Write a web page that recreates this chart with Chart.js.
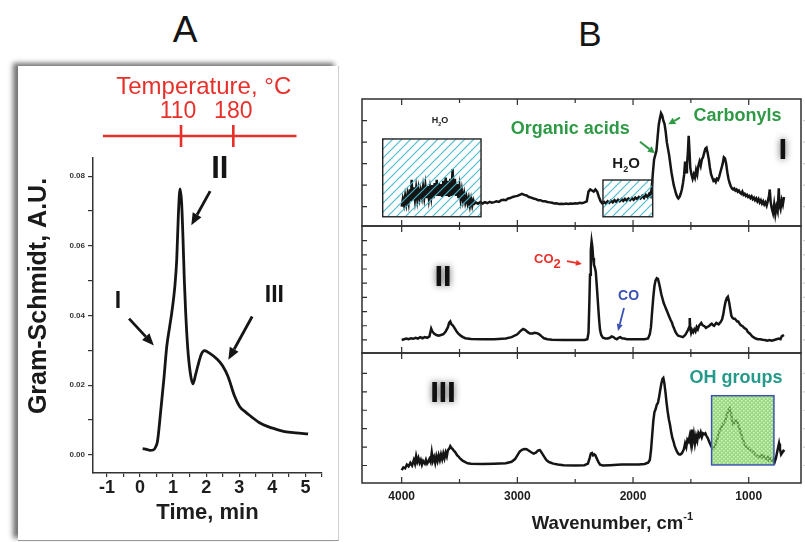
<!DOCTYPE html>
<html>
<head>
<meta charset="utf-8">
<script src="https://cdn.jsdelivr.net/npm/chart.js@4.4.1/dist/chart.umd.min.js"></script>
<style>
  html, body { margin: 0; padding: 0; background: #fff; }
  body { width: 805px; height: 542px; position: relative; overflow: hidden;
         font-family: "Liberation Sans", Arial, sans-serif; }
  canvas { position: absolute; }
  .panel-letter { position: absolute; color: #151515; line-height: 1; transform: translate(-50%, -50%); }
  #boxA { position: absolute; left: 18px; top: 66px; width: 320px; height: 474px; background: #fff;
          box-shadow: -5px -3px 5px rgba(0,0,0,0.55); border-right: 1px solid #d0d0d0; border-bottom: 1px solid #9a9a9a; }
</style>
</head>
<body>
<div class="panel-letter" style="left:185px;top:29px;font-size:37px;">A</div>
<div class="panel-letter" style="left:590px;top:33px;font-size:35px;">B</div>
<div id="boxA"></div>
<canvas id="cA" width="320" height="474" style="left:18px;top:66px;width:320px;height:474px"></canvas>
<canvas id="cB1" width="450" height="133" style="left:355px;top:96px;width:450px;height:133px"></canvas>
<canvas id="cB2" width="450" height="133" style="left:355px;top:223px;width:450px;height:133px"></canvas>
<canvas id="cB3" width="450" height="192" style="left:355px;top:350px;width:450px;height:192px"></canvas>
<script>
// ---------- Panel A: Gram-Schmidt evolved-gas trace ----------
const gsTime = [0.08, 0.2, 0.3, 0.4, 0.47, 0.53, 0.62, 0.72, 0.81, 0.9, 0.96, 1.05, 1.11, 1.16, 1.21,
  1.26, 1.3, 1.34, 1.38, 1.44, 1.52, 1.6, 1.68, 1.75, 1.85, 1.95, 2.1, 2.35, 2.5, 2.66,
  2.86, 3.01, 3.2, 3.36, 3.6, 3.87, 4.1, 4.37, 4.7, 5.08];
const gsSignal = [0.0018, 0.0016, 0.0013, 0.0014, 0.0022, 0.004, 0.012, 0.0216, 0.0312, 0.037, 0.0408, 0.048, 0.056, 0.069, 0.0763,
  0.072, 0.062, 0.05, 0.041, 0.031, 0.0235, 0.0204, 0.023, 0.0256, 0.0288, 0.0299, 0.0292, 0.0273, 0.0255, 0.0225,
  0.0168, 0.0139, 0.0122, 0.011, 0.0093, 0.0081, 0.0074, 0.0067, 0.0063, 0.006];
const timeRange = [-1.42, 5.5];
const signalRange = [-0.0052, 0.0852];
// temperature reached at given times (top red axis)
const tempLabels = [110, 180];
const tempTickTimes = [1.24, 2.82];
const tempAxisSpan = [-1.12, 4.73];
// stage markers: label, label position, arrow start, arrow end (time, signal)
const stageNames = ['I', 'II', 'III'];
const stageLabelPos = [[-0.667, 0.0439], [2.41, 0.0819], [4.06, 0.0456]];
const stageArrowFrom = [[-0.33, 0.0391], [2.12, 0.0757], [3.39, 0.0397]];
const stageArrowTo = [[0.42, 0.0314], [1.55, 0.0659], [2.67, 0.0273]];

// ---------- Panel B: FTIR spectra at stages I, II, III ----------
const wnRange = [548, 4343];
const wnTicks = [4000, 3500, 3000, 2500, 2000, 1500, 1000];
const wnTickLabels = [4000, 3000, 2000, 1000];
// [wavenumber cm-1, absorbance a.u.]
const specI = [
  [4000,0.0],[3990,0.35],[3980,0.1],[3970,0.5],[3960,0.15],[3950,0.55],[3940,0.2],[3930,0.8],[3920,0.25],[3914,1.25],
  [3905,0.3],[3895,0.9],[3885,0.35],[3875,0.85],[3865,0.35],[3855,0.8],[3845,0.4],[3835,0.75],[3825,0.45],[3815,0.9],
  [3805,0.45],[3795,0.95],[3785,0.4],[3775,0.95],[3765,0.4],[3755,0.85],[3745,0.45],[3735,1.0],[3725,0.4],[3715,1.1],
  [3705,0.5],[3697,1.25],[3690,0.5],[3680,1.1],[3670,0.5],[3660,1.05],[3650,0.45],[3640,1.2],[3630,0.5],[3620,1.35],
  [3610,0.5],[3600,1.2],[3590,0.45],[3580,1.3],[3570,0.5],[3560,1.75],[3550,0.55],[3540,1.3],[3530,0.5],[3520,1.05],
  [3510,0.4],[3500,0.9],[3490,0.35],[3480,0.75],[3470,0.3],[3460,0.6],[3450,0.2],[3440,0.45],[3430,0.15],[3420,0.4],
  [3410,0.05],[3400,0.35],[3390,0.05],[3380,0.3],[3370,0.15],
  [3360,0.2],[3340,0.14],[3320,0.22],[3300,0.15],[3280,0.21],[3260,0.16],[3240,0.22],[3220,0.18],[3200,0.21],[3180,0.25],
  [3160,0.22],[3140,0.3],[3120,0.32],[3100,0.3],[3080,0.38],[3060,0.4],[3040,0.45],[3020,0.48],[3000,0.5],[2980,0.55],
  [2960,0.6],[2940,0.55],[2920,0.52],[2900,0.45],[2880,0.42],[2860,0.38],[2840,0.35],[2820,0.3],[2800,0.3],[2780,0.25],
  [2760,0.25],[2740,0.22],[2720,0.2],[2700,0.18],[2680,0.15],[2660,0.16],[2640,0.12],[2620,0.14],[2600,0.12],[2580,0.15],
  [2560,0.13],[2540,0.15],[2520,0.14],[2500,0.16],[2480,0.15],[2460,0.18],[2440,0.16],[2420,0.2],[2400,0.25],[2385,0.7],
  [2370,0.8],[2355,0.75],[2340,0.7],[2325,0.8],[2310,0.7],[2295,0.45],[2280,0.25],[2265,0.15],[2250,0.22],[2235,0.15],
  [2220,0.25],[2205,0.18],[2190,0.28],[2175,0.2],[2160,0.3],[2145,0.22],[2130,0.32],[2115,0.25],[2100,0.35],[2085,0.27],
  [2070,0.36],[2055,0.28],[2040,0.38],[2025,0.3],[2010,0.4],[1995,0.32],[1980,0.42],[1965,0.35],[1950,0.45],[1935,0.38],
  [1920,0.5],[1905,0.4],[1890,0.55],[1875,0.45],[1860,0.6],[1848,0.5],[1838,0.9],[1828,1.6],[1818,2.2],[1808,2.4],
  [1798,2.6],[1788,3.2],[1778,3.8],[1768,4.1],[1758,4.35],[1748,4.25],[1738,4.0],[1728,3.85],[1718,3.5],[1708,3.0],
  [1698,2.7],[1688,2.4],[1678,2.0],[1668,1.6],[1658,1.3],[1648,1.0],[1638,0.8],[1628,0.6],[1618,0.45],[1608,0.38],
  [1598,0.45],[1588,0.6],[1578,0.8],[1568,1.1],[1558,1.5],[1550,2.1],[1542,1.6],[1534,1.9],[1526,2.5],[1519,3.3],
  [1512,2.6],[1505,1.8],[1495,1.5],[1485,1.3],[1475,1.5],[1465,1.35],[1455,1.7],[1445,1.5],[1435,1.9],[1425,2.1],
  [1415,1.9],[1405,2.2],[1395,2.3],[1385,2.5],[1375,2.7],[1365,2.75],[1355,2.5],[1345,2.2],[1335,1.8],[1325,1.5],
  [1315,1.35],[1305,1.2],[1295,1.25],[1285,1.15],[1275,1.3],[1265,1.25],[1255,1.4],[1245,1.6],[1235,1.8],[1225,2.0],
  [1215,2.3],[1205,2.25],[1195,2.0],[1185,1.6],[1175,1.3],[1165,1.1],[1155,0.95],[1145,0.85],[1135,0.8],[1125,0.85],
  [1115,0.75],[1105,0.8],[1095,0.7],[1085,0.75],[1075,0.65],[1065,0.6],[1055,0.7],[1045,0.55],[1035,0.6],[1025,0.5],
  [1015,0.55],[1005,0.45],[995,0.5],[985,0.4],[975,0.48],[965,0.35],[955,0.42],[945,0.3],[935,0.38],[925,0.25],
  [915,0.35],[905,0.2],[895,0.3],[885,0.15],[875,0.25],[865,0.1],[855,0.2],[845,0.05],[835,0.25],[825,0.5],
  [818,0.8],[810,0.2],[800,-0.1],[790,-0.3],[780,0.1],[770,-0.35],[760,0.0],[750,-0.2],[740,0.85],[735,0.1],
  [725,-0.1],[715,0.3],[705,0.1],[695,0.45]
];
const specII = [
  [4000,0.0],[3980,0.05],[3960,0.1],[3940,0.05],[3920,0.12],[3900,0.08],[3880,0.15],[3860,0.1],[3840,0.2],[3820,0.12],
  [3800,0.2],[3780,0.15],[3760,0.25],[3745,0.8],[3735,0.6],[3720,0.45],[3700,0.35],[3680,0.3],[3660,0.35],[3640,0.4],
  [3620,0.6],[3600,0.9],[3590,1.2],[3580,1.3],[3570,1.1],[3555,1.0],[3540,0.8],[3525,0.6],[3510,0.45],[3490,0.3],
  [3470,0.2],[3450,0.12],[3400,0.07],[3300,0.05],[3200,0.05],[3100,0.1],[3050,0.2],[3000,0.4],[2970,0.65],[2950,0.77],
  [2930,0.7],[2910,0.55],[2890,0.45],[2870,0.45],[2850,0.5],[2830,0.48],[2810,0.4],[2790,0.25],[2770,0.12],[2740,0.05],
  [2700,0.02],[2600,0.0],[2500,0.0],[2420,0.0],[2395,0.05],[2385,0.5],[2378,2.5],[2372,4.6],[2365,6.3],[2358,6.95],
  [2352,6.6],[2345,5.8],[2338,5.3],[2330,5.1],[2322,4.8],[2315,4.0],[2308,3.2],[2300,2.2],[2292,1.3],[2285,0.7],
  [2275,0.35],[2260,0.15],[2240,0.1],[2220,0.1],[2200,0.15],[2185,0.25],[2170,0.2],[2155,0.1],[2140,0.05],[2125,0.15],
  [2110,0.2],[2095,0.12],[2080,0.1],[2050,0.05],[2000,0.05],[1950,0.05],[1900,0.05],[1870,0.1],[1855,0.4],[1845,0.9],
  [1835,2.0],[1825,3.0],[1815,3.8],[1805,4.2],[1795,4.35],[1785,4.3],[1775,4.0],[1765,3.6],[1755,3.2],[1745,2.9],
  [1735,2.6],[1725,2.4],[1715,2.2],[1705,2.0],[1695,1.8],[1685,1.6],[1675,1.4],[1665,1.25],[1655,1.0],[1645,0.8],
  [1635,0.6],[1625,0.45],[1610,0.3],[1590,0.25],[1570,0.2],[1555,0.3],[1545,0.4],[1535,0.55],[1525,0.7],[1515,0.9],
  [1510,1.55],[1505,0.8],[1498,0.5],[1490,0.7],[1480,0.55],[1470,0.75],[1460,0.6],[1450,0.9],[1440,0.75],[1430,1.0],
  [1420,1.1],[1410,1.2],[1400,1.05],[1390,1.0],[1380,0.95],[1370,0.85],[1360,0.9],[1350,0.95],[1340,1.0],[1330,1.1],
  [1320,1.15],[1310,1.05],[1300,1.0],[1290,1.1],[1280,1.2],[1270,1.15],[1260,1.1],[1250,1.2],[1240,1.3],[1230,1.45],
  [1220,1.8],[1210,2.3],[1200,2.7],[1190,2.95],[1180,3.05],[1170,2.7],[1160,2.2],[1150,1.7],[1140,1.55],[1130,1.5],
  [1120,1.5],[1110,1.4],[1100,1.3],[1090,1.3],[1080,1.15],[1070,1.05],[1060,1.0],[1050,0.95],[1040,0.85],[1030,0.8],
  [1020,0.75],[1010,0.6],[1000,0.5],[990,0.45],[980,0.35],[970,0.25],[960,0.2],[940,0.1],[920,0.05],[900,0.05],
  [880,0.02],[860,0.0],[840,-0.05],[820,0.0],[800,-0.05],[780,0.0],[760,0.05],[740,0.1],[725,0.05],[715,0.25],
  [705,0.3],[695,0.35]
];
const specIII = [
  [4000,-0.25],[3985,-0.1],[3970,-0.15],[3955,0.05],[3940,-0.05],[3925,0.15],[3910,0.0],[3895,0.3],[3885,0.1],[3875,0.5],
  [3865,0.2],[3855,0.4],[3845,0.15],[3835,0.3],[3825,0.05],[3815,0.25],[3800,0.1],[3790,0.3],[3780,0.1],[3770,0.2],
  [3760,0.35],[3750,0.2],[3740,0.7],[3730,0.25],[3720,0.45],[3710,0.15],[3700,0.5],[3690,0.25],[3680,0.55],[3670,0.3],
  [3660,0.6],[3650,0.35],[3640,0.65],[3630,0.4],[3620,0.7],[3610,0.5],[3600,0.85],[3590,0.9],[3580,1.05],[3570,0.95],
  [3560,0.9],[3550,0.8],[3540,0.75],[3530,0.65],[3520,0.55],[3510,0.5],[3500,0.42],[3490,0.35],[3480,0.3],[3470,0.25],
  [3450,0.18],[3430,0.12],[3400,0.1],[3300,0.08],[3200,0.1],[3100,0.12],[3050,0.2],[3020,0.35],[3000,0.55],[2980,0.75],
  [2960,0.85],[2940,0.9],[2920,0.88],[2900,0.8],[2880,0.72],[2860,0.65],[2840,0.7],[2820,0.82],[2805,0.84],[2790,0.7],
  [2770,0.5],[2750,0.3],[2730,0.2],[2710,0.15],[2690,0.1],[2650,0.05],[2600,0.02],[2500,0.0],[2420,0.02],[2390,0.1],
  [2375,0.4],[2365,0.65],[2355,0.68],[2345,0.55],[2335,0.6],[2325,0.55],[2315,0.4],[2300,0.2],[2285,0.05],[2260,0.0],
  [2200,0.02],[2100,0.05],[2000,0.05],[1950,0.05],[1900,0.08],[1870,0.15],[1855,0.3],[1845,0.8],[1835,1.6],[1825,2.4],
  [1815,2.9],[1805,3.05],[1795,3.3],[1785,3.4],[1775,3.7],[1765,4.1],[1755,4.45],[1745,4.7],[1738,4.75],[1730,4.5],
  [1720,4.0],[1710,3.4],[1700,2.9],[1690,2.5],[1680,2.2],[1670,1.8],[1660,1.5],[1650,1.3],[1640,1.05],[1630,0.9],
  [1620,0.75],[1610,0.65],[1600,0.6],[1590,0.6],[1580,0.65],[1570,0.75],[1560,0.9],[1550,1.2],[1540,1.0],[1530,1.4],
  [1520,1.3],[1510,1.6],[1500,1.2],[1493,1.95],[1485,1.3],[1475,1.7],[1465,1.2],[1455,1.6],[1445,1.35],[1435,1.75],
  [1425,1.6],[1415,1.8],[1405,1.55],[1395,1.75],[1385,1.7],[1375,1.75],[1365,1.6],[1355,1.5],[1345,1.35],[1335,1.2],
  [1325,1.05],[1315,0.95],[1305,0.92],[1295,1.0],[1285,1.2],[1275,1.4],[1265,1.6],[1255,1.85],[1245,1.95],[1235,2.1],
  [1225,2.2],[1215,2.3],[1205,2.4],[1195,2.6],[1185,2.85],[1175,3.0],[1165,3.1],[1155,2.9],[1145,2.5],[1135,2.25],
  [1125,2.3],[1115,2.45],[1105,2.45],[1095,2.3],[1085,2.1],[1075,1.9],[1065,1.7],[1055,1.5],[1045,1.3],[1035,1.15],
  [1025,1.05],[1015,1.0],[1005,0.95],[995,0.9],[985,0.85],[975,0.8],[965,0.75],[955,0.7],[945,0.6],[935,0.55],
  [925,0.5],[915,0.45],[905,0.5],[895,0.55],[885,0.45],[875,0.55],[865,0.5],[855,0.4],[845,0.35],[835,0.45],
  [825,0.3],[815,0.4],[805,0.35],[795,0.25],[785,0.35],[775,0.2],[765,0.4],[755,0.7],[745,1.0],[738,1.2],
  [730,0.9],[720,0.6],[710,0.7],[700,0.8],[690,0.75]
];
// vertical ranges and inner tick values of the three stacked panels
const rangeI = [-0.9, 5.01],  ticksI = [0, 1, 2, 3, 4];
const rangeII = [-0.92, 8.03], ticksII = [0, 1, 2, 3, 4, 5, 6, 7];
const rangeIII = [-0.95, 6.11], ticksIII = [0, 1, 2, 3, 4, 5];
// highlighted bands [wn from, wn to, abs from, abs to]
const waterBandWide = [4164, 3314, -0.47, 3.15];
const waterBandNarrow = [2260, 1830, -0.47, 1.24];
const hydroxylBand = [1321, 782, 0.03, 3.79];

const FONT = '"Liberation Sans", Arial, sans-serif';
const RED = '#e8302a', GREEN = '#2f9a45', TEAL = '#25998a', BLUE = '#3b52b4', INK = '#151515';

function arrow(ctx, x1, y1, x2, y2, color, lw, head, hw) {
  const a = Math.atan2(y2 - y1, x2 - x1);
  const bx = x2 - head * Math.cos(a), by = y2 - head * Math.sin(a);
  ctx.strokeStyle = color; ctx.lineWidth = lw; ctx.lineCap = 'butt';
  ctx.beginPath(); ctx.moveTo(x1, y1); ctx.lineTo(bx, by); ctx.stroke();
  ctx.fillStyle = color; ctx.beginPath(); ctx.moveTo(x2, y2);
  ctx.lineTo(bx + hw * Math.sin(a), by - hw * Math.cos(a));
  ctx.lineTo(bx - hw * Math.sin(a), by + hw * Math.cos(a));
  ctx.closePath(); ctx.fill();
}

// text made of pieces; piece = [text, shift] with shift 0 normal, 1 subscript, -1 superscript
function richText(ctx, parts, cx, cy, size, color, subScale, subDrop) {
  const fontFor = s => `bold ${s ? size * subScale : size}px ${FONT}`;
  let w = 0;
  parts.forEach(([t, s]) => { ctx.font = fontFor(s); w += ctx.measureText(t).width; });
  let x = cx - w / 2;
  const base = cy + size * 0.36;
  ctx.fillStyle = color; ctx.textAlign = 'left'; ctx.textBaseline = 'alphabetic';
  parts.forEach(([t, s]) => {
    ctx.font = fontFor(s);
    ctx.fillText(t, x, base + s * size * subDrop);
    x += ctx.measureText(t).width;
  });
}

function blurredNumeral(ctx, text, x, y, size) {
  ctx.save();
  ctx.font = `bold ${size}px ${FONT}`;
  ctx.textAlign = 'center'; ctx.textBaseline = 'middle';
  ctx.shadowColor = 'rgba(0,0,0,0.75)'; ctx.shadowBlur = 7;
  ctx.fillStyle = 'rgba(20,20,20,0.9)';
  ctx.fillText(text, x, y);
  ctx.shadowBlur = 0;
  ctx.fillStyle = '#111';
  ctx.fillText(text, x, y);
  ctx.restore();
}

function hatchPattern(ctx) {
  const c = document.createElement('canvas'); c.width = 9; c.height = 9;
  const g = c.getContext('2d');
  g.strokeStyle = 'rgba(70,185,205,0.95)'; g.lineWidth = 1.2;
  g.beginPath();
  g.moveTo(-1, 10); g.lineTo(10, -1);
  g.moveTo(-1, 1); g.lineTo(1, -1);
  g.moveTo(8, 10); g.lineTo(10, 8);
  g.stroke();
  return ctx.createPattern(c, 'repeat');
}
function dotPattern(ctx) {
  const c = document.createElement('canvas'); c.width = 4; c.height = 4;
  const g = c.getContext('2d');
  g.fillStyle = 'rgba(115,200,80,0.72)'; g.fillRect(0, 0, 4, 4);
  g.fillStyle = 'rgba(225,250,210,0.85)';
  g.fillRect(0, 0, 1.5, 1.5); g.fillRect(2, 2, 1.5, 1.5);
  return ctx.createPattern(c, 'repeat');
}

// ---------- Panel A chart ----------
const panelANotes = {
  id: 'panelANotes',
  afterDraw(chart) {
    const { ctx, chartArea: a, scales: { x, y } } = chart;
    ctx.save();
    // y-axis title
    ctx.save();
    ctx.translate(a.left - 55, a.top + 138);
    ctx.rotate(-Math.PI / 2);
    ctx.font = `bold 25px ${FONT}`; ctx.fillStyle = '#1a1a1a';
    ctx.textAlign = 'center'; ctx.textBaseline = 'middle';
    ctx.fillText('Gram-Schmidt, A.U.', 0, 1);
    ctx.restore();

    // temperature axis
    const yLine = a.top - 22;
    const x0 = x.getPixelForValue(tempAxisSpan[0]), x1 = x.getPixelForValue(tempAxisSpan[1]);
    ctx.strokeStyle = RED; ctx.lineWidth = 2.6;
    ctx.beginPath(); ctx.moveTo(x0, yLine); ctx.lineTo(x1, yLine); ctx.stroke();
    ctx.fillStyle = RED; ctx.textAlign = 'center'; ctx.textBaseline = 'middle';
    ctx.font = `23px ${FONT}`;
    tempTickTimes.forEach((t, i) => {
      const px = x.getPixelForValue(t);
      ctx.beginPath(); ctx.moveTo(px, yLine - 11); ctx.lineTo(px, yLine + 11); ctx.stroke();
      ctx.fillText(String(tempLabels[i]), px - (i === 0 ? 3 : 0), yLine - 24);
    });
    ctx.font = `24px ${FONT}`;
    ctx.fillText('Temperature, \u00B0C', (x0 + x1) / 2 + 4, yLine - 49);

    // stage labels and arrows
    stageNames.forEach((n, i) => {
      ctx.font = `bold ${i === 1 ? 31 : 23}px ${FONT}`;
      ctx.fillStyle = INK;
      ctx.fillText(n, x.getPixelForValue(stageLabelPos[i][0]), y.getPixelForValue(stageLabelPos[i][1]));
      arrow(ctx, x.getPixelForValue(stageArrowFrom[i][0]), y.getPixelForValue(stageArrowFrom[i][1]),
                 x.getPixelForValue(stageArrowTo[i][0]), y.getPixelForValue(stageArrowTo[i][1]), INK, 2.8, 12, 5);
    });
    ctx.restore();
  }
};

new Chart(document.getElementById('cA'), {
  type: 'line',
  data: { datasets: [{
    data: gsTime.map((t, i) => ({ x: t, y: gsSignal[i] })),
    borderColor: INK, borderWidth: 2.8, pointRadius: 0,
    cubicInterpolationMode: 'monotone', fill: false
  }] },
  options: {
    responsive: false, animation: false, events: [],
    layout: { padding: { left: 0, top: 92, right: 16, bottom: 0 } },
    plugins: { legend: { display: false }, tooltip: { enabled: false } },
    scales: {
      x: {
        type: 'linear', min: timeRange[0], max: timeRange[1],
        border: { color: '#333', width: 1.5 },
        grid: { drawOnChartArea: false, tickLength: 4, color: '#333', lineWidth: 1.2 },
        ticks: { stepSize: 0.5, includeBounds: false, autoSkip: false, maxRotation: 0, padding: 2, color: '#1d1d1d',
                 font: { family: FONT, size: 18, weight: 'bold', lineHeight: 1 },
                 callback: v => Number.isInteger(v) ? String(v) : '' },
        title: { display: true, text: 'Time, min', color: '#1d1d1d',
                 font: { family: FONT, size: 22, weight: 'bold', lineHeight: 1 }, padding: { top: 0, bottom: 16 } },
        afterFit: s => { s.height = 67; }
      },
      y: {
        type: 'linear', min: signalRange[0], max: signalRange[1],
        border: { color: '#333', width: 1.5 },
        grid: { drawOnChartArea: false, tickLength: 5, color: '#333', lineWidth: 1.2 },
        ticks: { stepSize: 0.01, includeBounds: false, autoSkip: false, padding: 3, color: '#333',
                 font: { family: FONT, size: 8, weight: 'bold' },
                 callback: v => (Math.round(v * 100) % 2 === 0) ? v.toFixed(2) : '' },
        afterFit: s => { s.width = 75; }
      }
    }
  },
  plugins: [panelANotes]
});

// ---------- Panel B charts ----------
// frame with inward ticks on all sides, drawn from the chart's own scales
function panelFrame(yTicks, withAxis, drawNotes) {
  return {
    id: 'panelFrame',
    afterDatasetsDraw(chart) {
      const { ctx, chartArea: a, scales: { x, y } } = chart;
      ctx.save();
      if (drawNotes) drawNotes(ctx, x, y, a);
      ctx.strokeStyle = '#2e2e2e'; ctx.lineWidth = 1.5;
      ctx.strokeRect(a.left, a.top, a.right - a.left, a.bottom - a.top);
      ctx.lineWidth = 1.2;
      ctx.beginPath();
      wnTicks.forEach(w => {
        const px = x.getPixelForValue(w);
        const len = (w % 1000 === 0) ? 6 : 4;
        ctx.moveTo(px, a.top); ctx.lineTo(px, a.top + len);
        ctx.moveTo(px, a.bottom); ctx.lineTo(px, a.bottom - len);
      });
      yTicks.forEach(v => {
        const py = y.getPixelForValue(v);
        ctx.moveTo(a.left, py); ctx.lineTo(a.left + 5, py);
      });
      ctx.stroke();
      ctx.strokeStyle = '#cfcfcf'; ctx.beginPath();
      yTicks.forEach(v => {
        const py = y.getPixelForValue(v);
        ctx.moveTo(a.right + 2, py); ctx.lineTo(a.right + 4, py);
      });
      ctx.stroke();
      if (withAxis) {
        ctx.fillStyle = '#1d1d1d';
        ctx.font = `bold 12px ${FONT}`;
        ctx.textAlign = 'center'; ctx.textBaseline = 'middle';
        wnTickLabels.forEach(w => ctx.fillText(String(w), x.getPixelForValue(w), a.bottom + 14));
        richText(ctx, [['Wavenumber, cm', 0], ['-1', -1]], (a.left + a.right) / 2 + 31, a.bottom + 39, 18.5, '#1d1d1d', 0.6, 0.45);
      }
      ctx.restore();
    }
  };
}

function bandRect(x, y, band) {
  const l = x.getPixelForValue(band[0]), r = x.getPixelForValue(band[1]);
  const t = y.getPixelForValue(band[3]), b = y.getPixelForValue(band[2]);
  return [l, t, r - l, b - t];
}

function spectrum(id, pts, range, yTicks, withAxis, notes) {
  return new Chart(document.getElementById(id), {
    type: 'line',
    data: { datasets: [{
      data: pts.map(p => ({ x: p[0], y: p[1] })),
      borderColor: INK, borderWidth: 2.5, pointRadius: 0, tension: 0, fill: false
    }] },
    options: {
      responsive: false, animation: false, events: [],
      layout: { padding: { left: 7, right: 4, top: 3, bottom: withAxis ? 59 : 3 } },
      plugins: { legend: { display: false }, tooltip: { enabled: false } },
      scales: {
        x: { type: 'linear', reverse: true, min: wnRange[0], max: wnRange[1], display: false },
        y: { type: 'linear', min: range[0], max: range[1], display: false }
      }
    },
    plugins: [panelFrame(yTicks, withAxis, notes)]
  });
}

spectrum('cB1', specI, rangeI, ticksI, false, (ctx, x, y) => {
  const pat = hatchPattern(ctx);
  [waterBandWide, waterBandNarrow].forEach(b => {
    const r = bandRect(x, y, b);
    ctx.fillStyle = pat; ctx.fillRect(...r);
    ctx.strokeStyle = '#222'; ctx.lineWidth = 1.4; ctx.strokeRect(...r);
  });
  richText(ctx, [['H', 0], ['2', 1], ['O', 0]], x.getPixelForValue(3669), y.getPixelForValue(4.03), 9, '#222', 0.6, 0.25);
  richText(ctx, [['H', 0], ['2', 1], ['O', 0]], x.getPixelForValue(2060), y.getPixelForValue(2.06), 15, '#1a1a1a', 0.6, 0.3);
  richText(ctx, [['Organic acids', 0]], x.getPixelForValue(2542), y.getPixelForValue(3.66), 18, GREEN, 1, 0);
  richText(ctx, [['Carbonyls', 0]], x.getPixelForValue(1097), y.getPixelForValue(4.31), 18, GREEN, 1, 0);
  arrow(ctx, x.getPixelForValue(1940), y.getPixelForValue(3.02), x.getPixelForValue(1810), y.getPixelForValue(2.48), GREEN, 2, 7, 3.5);
  arrow(ctx, x.getPixelForValue(1594), y.getPixelForValue(4.14), x.getPixelForValue(1695), y.getPixelForValue(3.83), GREEN, 2, 7, 3.5);
  blurredNumeral(ctx, 'I', x.getPixelForValue(704), y.getPixelForValue(2.59), 30);
});

spectrum('cB2', specII, rangeII, ticksII, false, (ctx, x, y) => {
  blurredNumeral(ctx, 'II', x.getPixelForValue(3643), y.getPixelForValue(4.37), 30);
  richText(ctx, [['CO', 0], ['2', 1]], x.getPixelForValue(2740), y.getPixelForValue(5.75), 13, RED, 1, 0.35);
  arrow(ctx, x.getPixelForValue(2571), y.getPixelForValue(5.56), x.getPixelForValue(2442), y.getPixelForValue(5.35), RED, 1.8, 6, 3);
  richText(ctx, [['CO', 0]], x.getPixelForValue(2039), y.getPixelForValue(3.17), 14, BLUE, 1, 0);
  arrow(ctx, x.getPixelForValue(2078), y.getPixelForValue(2.25), x.getPixelForValue(2130), y.getPixelForValue(0.63), BLUE, 1.8, 7, 3);
});

spectrum('cB3', specIII, rangeIII, ticksIII, true, (ctx, x, y) => {
  blurredNumeral(ctx, 'III', x.getPixelForValue(3643), y.getPixelForValue(3.89), 30);
  const r = bandRect(x, y, hydroxylBand);
  ctx.fillStyle = dotPattern(ctx); ctx.fillRect(...r);
  ctx.strokeStyle = '#3a55b0'; ctx.lineWidth = 1.5; ctx.strokeRect(...r);
  richText(ctx, [['OH groups', 0]], x.getPixelForValue(1110), y.getPixelForValue(4.81), 18, TEAL, 1, 0);
});
</script>
</body>
</html>
